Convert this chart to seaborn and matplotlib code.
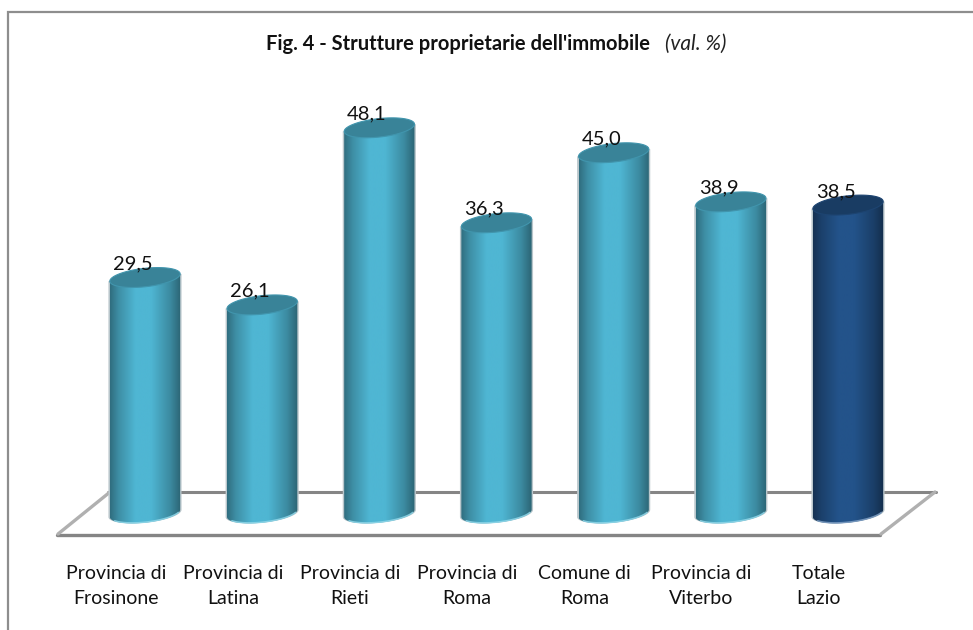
import numpy as np
import pandas as pd
import matplotlib
matplotlib.use("Agg")
import matplotlib.pyplot as plt
import seaborn as sns
from matplotlib.lines import Line2D
from matplotlib.patches import PathPatch, Polygon
from matplotlib.path import Path

# Values
categories = ["Provincia di\nFrosinone", "Provincia di\nLatina", "Provincia di\nRieti",
              "Provincia di\nRoma", "Comune di\nRoma", "Provincia di\nViterbo", "Totale\nLazio"]
values = [29.5, 26.1, 48.1, 36.3, 45.0, 38.9, 38.5]
value_labels = ["29,5", "26,1", "48,1", "36,3", "45,0", "38,9", "38,5"]
bar_colors = ["#4fb6d3", "#4fb6d3", "#4fb6d3", "#4fb6d3", "#4fb6d3", "#4fb6d3", "#23538a"]
title_main = "Fig. 4 - Strutture proprietarie dell'immobile"
title_unit = "(val. %)"

sns.set_theme(style="white")
plt.rcParams["font.family"] = ["Lato", "DejaVu Sans"]

W, H = 973, 630
fig = plt.figure(figsize=(W / 100, H / 100), dpi=100, facecolor="white")


def fx(px):
    return px / W


def fy(py):
    return 1 - py / H


# Chart area: 0 sits at pixel row 515, 8.05 pixels per unit, room below 0 for the cylinder base
y_min, y_max = -6, 60
ax = fig.add_axes([fx(86.4), fy(515 - y_min * 8.05), fx(820.2), (y_max - y_min) * 8.05 / H])
ax.patch.set_visible(False)

df = pd.DataFrame({"category": categories, "value": values})
sns.barplot(data=df, x="category", y="value", hue="category", palette=bar_colors,
            legend=False, width=0.6, ax=ax, zorder=1)
ax.set_xlabel("")
ax.set_ylabel("")
ax.set_yticks([])
ax.set_xticks(np.arange(len(categories)) - 0.25, categories)
ax.tick_params(axis="x", length=0, pad=1, labelsize=14, labelcolor="#111111")
for label in ax.get_xticklabels():
    label.set_linespacing(1.58)
sns.despine(ax=ax, left=True, bottom=True)


def shade(color, f):
    rgb = np.array(matplotlib.colors.to_rgb(color))
    return tuple(rgb * f)


t = np.linspace(0, 2 * np.pi, 120)
a_half = np.linspace(np.pi, 2 * np.pi, 60)
ry = 1.15   # ellipse half height, data units
tilt = 1.5  # shear of the ellipses, data units per x unit

for bar, value, color, text in zip(ax.patches, values, bar_colors, value_labels):
    x0, w = bar.get_x(), bar.get_width()
    cx, rx = x0 + w / 2, w / 2
    bar.set_visible(False)

    base_y = 0.2
    lower_x = cx + rx * np.cos(a_half)
    lower_y = base_y + ry * np.sin(a_half) + tilt * (lower_x - cx)
    body = np.vstack([[x0, value - tilt * rx],
                      np.column_stack([lower_x, lower_y]),
                      [x0 + w, value + tilt * rx]])

    # thin pale edge behind the cylinder
    ax.add_patch(Polygon(body + [[0.012, 0]], closed=True, fc="#b9c6cb", ec="none", zorder=2))
    ax.add_patch(Polygon(body - [[0.012, 0]], closed=True, fc="#b9c6cb", ec="none", zorder=2))

    # horizontal gradient clipped to the body
    pos = np.linspace(0, 1, 256)
    factor = np.interp(pos, [0, 0.12, 0.36, 0.58, 0.85, 1], [0.6, 0.78, 1.0, 1.0, 0.76, 0.55])
    img = np.array([shade(color, f) for f in factor])[None, :, :]
    clip = PathPatch(Path(np.vstack([body, body[0]]), closed=True), transform=ax.transData,
                     fc="none", ec="none")
    ax.add_patch(clip)
    im = ax.imshow(img, extent=(x0, x0 + w, y_min, value + 3), aspect="auto", zorder=3,
                   interpolation="bilinear")
    im.set_clip_path(clip)

    # pale rim on the lower edge
    rim_color = "#8fd6e8" if color == "#4fb6d3" else "#7f9fc4"
    ax.plot(lower_x[10:-6], lower_y[10:-6] + 0.06, color=rim_color, lw=1.1, alpha=0.85, zorder=4)

    # top of the cylinder
    top_x = cx + rx * np.cos(t)
    top = np.column_stack([top_x, value + ry * np.sin(t) + tilt * (top_x - cx)])
    ax.add_patch(Polygon(top, closed=True, fc=shade(color, 0.72), ec=shade(color, 0.82), lw=0.8,
                         zorder=5))

    ax.text(cx - 0.105, value + 1.0, text, ha="center", va="baseline", fontsize=14.5,
            color="#111111", zorder=6)

ax.set_xlim(-0.5, 6.5)
ax.set_ylim(y_min, y_max)

# Floor of the 3D chart and outer frame, behind the axes
grey = "#858585"
floor = [
    ([fx(57), fx(880)], [fy(535), fy(535)], grey, 2.4),
    ([fx(108), fx(936)], [fy(491.5), fy(491.5)], grey, 2.2),
    ([fx(58), fx(110)], [fy(534), fy(492)], "#b0b0b0", 2.4),
    ([fx(881), fx(935)], [fy(534), fy(492)], "#b0b0b0", 2.4),
    ([fx(8), fx(8), fx(973)], [fy(630), fy(12), fy(12)], "#8e8e8e", 1.6),
]
for xs, ys, c, lw in floor:
    fig.add_artist(Line2D(xs, ys, color=c, lw=lw, transform=fig.transFigure, zorder=-1,
                          solid_joinstyle="miter"))

fig.text(fx(266), fy(50), title_main, fontsize=14.5, fontweight="bold", color="#111111",
         ha="left", va="baseline")
fig.text(fx(665), fy(50), title_unit, fontsize=15, fontstyle="italic", color="#222222",
         ha="left", va="baseline")

fig.savefig("out.png", dpi=100)
